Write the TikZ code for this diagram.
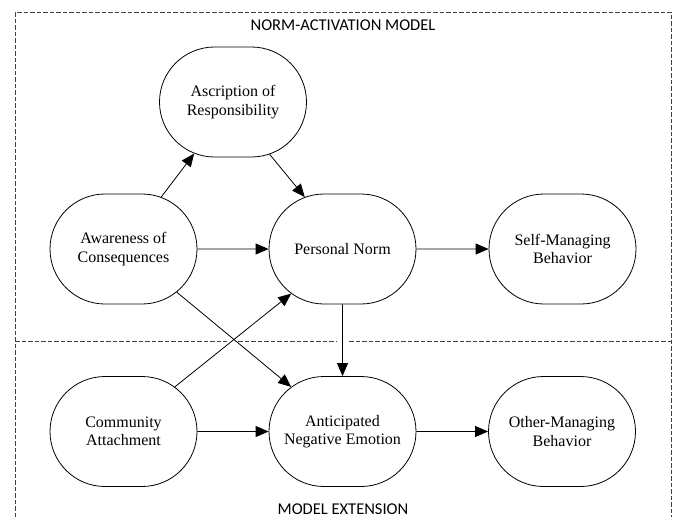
\documentclass[tikz,border=0pt]{standalone}
\usepackage{fontspec}
\setmainfont{Liberation Serif}
\newfontfamily\titlefont{Carlito}
\usetikzlibrary{shapes.misc,arrows.meta}

\tikzset{
    var node/.style={rounded rectangle,draw,line width=0.8pt,minimum width=147pt,minimum height=110pt,inner sep=0,align=center,font=\fontsize{16}{18.5}\selectfont},
    path arrow/.style={-{Triangle[length=13pt,width=11pt]},line width=0.8pt},
    frame line/.style={dash pattern=on 4.5pt off 2pt,line width=0.8pt,black!75},
    title/.style={font=\titlefont\fontsize{16.5}{18}\selectfont}
    }

\begin{document}
\begin{tikzpicture}[x=1pt,y=-1pt]
    \useasboundingbox (0,0) rectangle (676,517);
    % frame of the two models
    \draw[frame line] (15,517) -- (15,12) -- (671,12) -- (671,517);
    \draw[frame line] (15,341) -- (227,341) (238,341) -- (336,341) (349,341) -- (671,341);
    \node(nam)[title] at (343,25) {NORM-ACTIVATION MODEL};
    \node(ext)[title] at (343,509) {MODEL EXTENSION};

    \node(asc)[var node] at (233,102) {Ascription of\\Responsibility};
    \node(awc)[var node] at (123.5,249) {Awareness of\\Consequences};
    \node(pn)[var node] at (342.5,249) {Personal Norm};
    \node(smb)[var node] at (562.5,249) {Self-Managing\\Behavior};
    \node(ca)[var node] at (123.5,431.5) {Community\\Attachment};
    \node(ane)[var node] at (342.5,431.5) {Anticipated\\Negative Emotion};
    \node(omb)[var node] at (562,431.5) {Other-Managing\\Behavior};

    \draw[path arrow] (awc.54) -- (asc.233);
    \draw[path arrow] (asc.-55) -- (pn.126);
    \draw[path arrow] (awc) -- (pn);
    \draw[path arrow] (pn) -- (smb);
    \draw[path arrow] (awc.-39) -- (ane.139);
    \draw[path arrow] (ca.41) -- (pn.-139);
    \draw[path arrow] (pn) -- (ane);
    \draw[path arrow] (ca) -- (ane);
    \draw[path arrow] (ane) -- (omb);
\end{tikzpicture}
\end{document}
